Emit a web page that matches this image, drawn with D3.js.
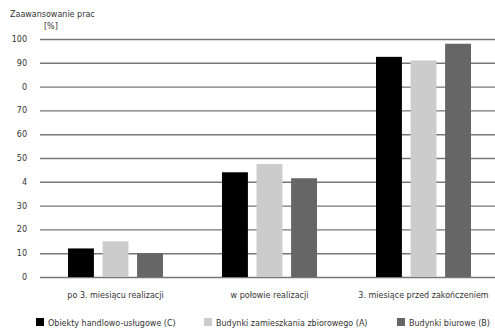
<!DOCTYPE html>
<html>
<head>
<meta charset="utf-8">
<script src="https://cdn.jsdelivr.net/npm/d3@7"></script>
<style>
  html, body { margin: 0; padding: 0; background: #fff; }
  svg { display: block; }
  text { font-family: "DejaVu Sans", Verdana, sans-serif; fill: #333; }
</style>
</head>
<body>
<svg id="chart" width="495" height="329"></svg>
<script>
// Stages of construction
const categories = ["po 3. miesiącu realizacji", "w połowie realizacji", "3. miesiące przed zakończeniem"];
// Building types (series)
const seriesNames = ["Obiekty handlowo-usługowe (C)", "Budynki zamieszkania zbiorowego (A)", "Budynki biurowe (B)"];
const seriesColors = ["#000000", "#cccccc", "#666666"];
// Work progress [%] per series, one value per stage
const valuesC = [12, 44, 92.5];
const valuesA = [15, 47.5, 91];
const valuesB = [10, 41.5, 98];
// Y-axis
const tickValues = [0, 10, 20, 30, 40, 50, 60, 70, 80, 90, 100];
const tickLabels = ["0", "10", "20", "30", "4", "50", "60", "70", "0", "90", "100"];

const seriesValues = [valuesC, valuesA, valuesB];
const svg = d3.select("#chart");

const y = d3.scaleLinear().domain([0, 100]).range([277, 39]);
const x0 = d3.scaleBand().domain(categories).range([38.5, 500.5]).padding(0);
const x1 = d3.scaleBand().domain(seriesNames).range([29.5, 124.5]).paddingInner(0.25);

// Gridlines with labels
const yAxis = d3.axisLeft(y)
  .tickValues(tickValues)
  .tickFormat((d, i) => tickLabels[i])
  .tickSize(-455)
  .tickPadding(13);

const gy = svg.append("g").attr("transform", "translate(40,0)").call(yAxis);
gy.select(".domain").remove();
gy.selectAll(".tick line").attr("stroke", "#767676").attr("stroke-width", 1.4);
gy.selectAll(".tick text").attr("font-size", "8px").attr("fill", "#333");

// Bars
const groups = svg.append("g").selectAll("g")
  .data(categories)
  .join("g")
  .attr("transform", d => `translate(${x0(d)},0)`);

groups.selectAll("rect")
  .data((d, ci) => seriesNames.map((s, si) => ({ s, si, v: seriesValues[si][ci] })))
  .join("rect")
  .attr("x", d => x1(d.s))
  .attr("width", x1.bandwidth())
  .attr("y", d => y(d.v))
  .attr("height", d => y(0) - y(d.v))
  .attr("fill", d => seriesColors[d.si]);

// Category labels
svg.append("g").selectAll("text")
  .data(categories)
  .join("text")
  .attr("x", d => x0(d) + x0.bandwidth() / 2)
  .attr("y", 298)
  .attr("text-anchor", "middle")
  .attr("font-size", "8px")
  .text(d => d);

// Axis title
svg.append("text").attr("x", 10).attr("y", 17).attr("font-size", "8px").text("Zaawansowanie prac");
svg.append("text").attr("x", 44).attr("y", 29).attr("font-size", "8px").text("[%]");

// Legend
const legendX = [36, 204, 397];
const legend = svg.append("g").selectAll("g")
  .data(seriesNames)
  .join("g")
  .attr("transform", (d, i) => `translate(${legendX[i]},318)`);
legend.append("rect").attr("width", 8).attr("height", 8).attr("fill", (d, i) => seriesColors[i]);
legend.append("text").attr("x", 12).attr("y", 7.5).attr("font-size", "8px").text(d => d);
</script>
</body>
</html>
